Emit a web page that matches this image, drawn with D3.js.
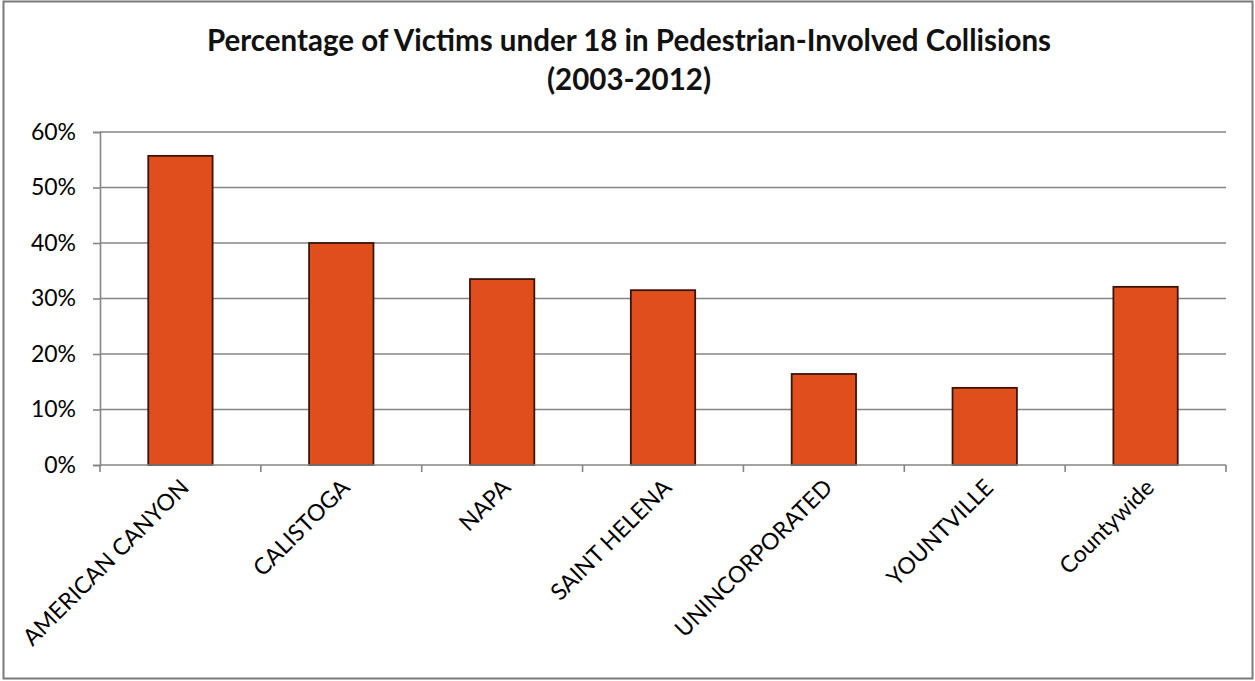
<!DOCTYPE html>
<html>
<head>
<meta charset="utf-8">
<script src="https://cdn.jsdelivr.net/npm/d3@7"></script>
<style>
  html, body { margin: 0; padding: 0; background: #fff; }
  svg { display: block; }
</style>
</head>
<body>
<svg id="chart" width="1255" height="681"></svg>
<script>
// Share of pedestrian-collision victims under age 18, Napa County jurisdictions
const categories = ["AMERICAN CANYON", "CALISTOGA", "NAPA", "SAINT HELENA", "UNINCORPORATED", "YOUNTVILLE", "Countywide"];
const values = [0.557, 0.400, 0.335, 0.315, 0.164, 0.139, 0.321];
const yTicks = [0, 0.1, 0.2, 0.3, 0.4, 0.5, 0.6];
const titleLines = ["Percentage of Victims under 18 in Pedestrian-Involved Collisions", "(2003-2012)"];

const W = 1255, H = 681;
const margin = { left: 100, right: 29, top: 132, bottom: 216 };
const svg = d3.select("#chart");
const font = "Lato, 'Open Sans', sans-serif";

// outer frame
svg.append("rect")
  .attr("x", 3.5).attr("y", 1.5).attr("width", W - 6).attr("height", H - 4)
  .attr("fill", "#fff").attr("stroke", "#7a7a7a").attr("stroke-width", 2);

const x = d3.scaleBand()
  .domain(categories)
  .range([margin.left, W - margin.right])
  .paddingInner(0.6)
  .paddingOuter(0.3);

const y = d3.scaleLinear()
  .domain([0, 0.6])
  .range([H - margin.bottom, margin.top]);

// title
svg.append("g").selectAll("text")
  .data(titleLines)
  .join("text")
  .attr("x", 629)
  .attr("y", (d, i) => 51 + i * 39)
  .attr("text-anchor", "middle")
  .attr("font-family", font)
  .attr("font-weight", "bold")
  .attr("font-size", 29.5)
  .attr("fill", "#111")
  .text(d => d);

// horizontal gridlines
svg.append("g").selectAll("line")
  .data(yTicks.slice(1))
  .join("line")
  .attr("x1", margin.left).attr("x2", W - margin.right)
  .attr("y1", d => y(d)).attr("y2", d => y(d))
  .attr("stroke", "#858585").attr("stroke-width", 1.6);

// y axis
const yAxis = d3.axisLeft(y)
  .tickValues(yTicks)
  .tickFormat(d3.format(".0%"))
  .tickSize(7)
  .tickPadding(17);
const gy = svg.append("g")
  .attr("transform", `translate(${margin.left},0)`)
  .call(yAxis);
gy.select(".domain").attr("stroke", "#858585").attr("stroke-width", 1.6);
gy.selectAll(".tick line").attr("stroke", "#858585").attr("stroke-width", 1.6);
gy.selectAll(".tick text")
  .attr("font-family", font)
  .attr("font-size", 23)
  .attr("fill", "#000");

// bars
svg.append("g").selectAll("rect")
  .data(values)
  .join("rect")
  .attr("x", (d, i) => x(categories[i]))
  .attr("width", x.bandwidth())
  .attr("y", d => y(d))
  .attr("height", d => y(0) - y(d))
  .attr("fill", "#E04F1B")
  .attr("stroke", "#3b1409")
  .attr("stroke-width", 1.8);

// x axis baseline with ticks on category boundaries
const boundaries = d3.range(categories.length + 1).map(i => margin.left + i * (W - margin.right - margin.left) / categories.length);
const gx = svg.append("g");
gx.append("line")
  .attr("x1", margin.left).attr("x2", W - margin.right)
  .attr("y1", y(0)).attr("y2", y(0))
  .attr("stroke", "#858585").attr("stroke-width", 1.6);
gx.selectAll("line.tk")
  .data(boundaries)
  .join("line")
  .attr("class", "tk")
  .attr("x1", d => d).attr("x2", d => d)
  .attr("y1", y(0)).attr("y2", y(0) + 7)
  .attr("stroke", "#858585").attr("stroke-width", 1.6);

// rotated category labels
gx.selectAll("text")
  .data(categories)
  .join("text")
  .attr("transform", d => `translate(${x(d) + x.bandwidth() / 2 + 10},${y(0) + 24}) rotate(-45)`)
  .attr("text-anchor", "end")
  .attr("font-family", font)
  .attr("font-size", 23)
  .attr("fill", "#000")
  .text(d => d);
</script>
</body>
</html>
